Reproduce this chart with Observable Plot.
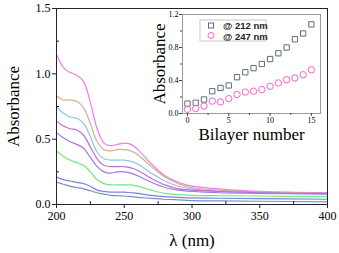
<!DOCTYPE html>
<html><head><meta charset="utf-8">
<script src="https://cdn.jsdelivr.net/npm/d3@7"></script>
<script src="https://cdn.jsdelivr.net/npm/@observablehq/plot@0.6"></script>
<style>
body{margin:0;background:#fff;}
#wrap{position:relative;width:339px;height:253px;}
#inset{position:absolute;left:145px;top:0;}
#wrap svg text{font-family:"Liberation Serif","Times New Roman","DejaVu Serif",Times,serif !important;}
#wrap svg text.lg{font-family:"Liberation Sans",Arial,sans-serif !important;}
</style></head><body>
<div id="wrap"><div id="main"></div><div id="inset"></div></div>
<script>
const wl = [200,205,210,215,220,225,230,235,240,245,250,255,260,270,280,290,300,320,350,400];
const sPink   = [1.15,1.05,1.01,0.99,0.94,0.78,0.58,0.47,0.45,0.46,0.47,0.46,0.42,0.31,0.22,0.17,0.14,0.12,0.10,0.09];
const sTan    = [0.83,0.80,0.80,0.79,0.74,0.62,0.48,0.42,0.41,0.42,0.42,0.41,0.38,0.29,0.21,0.16,0.13,0.11,0.095,0.085];
const sLBlue  = [0.75,0.70,0.67,0.66,0.62,0.52,0.40,0.35,0.34,0.34,0.34,0.33,0.31,0.24,0.18,0.14,0.12,0.10,0.09,0.08];
const sMag    = [0.64,0.60,0.58,0.57,0.53,0.44,0.35,0.30,0.29,0.29,0.29,0.28,0.26,0.20,0.15,0.12,0.11,0.10,0.09,0.085];
const sViolet = [0.55,0.51,0.48,0.46,0.43,0.36,0.29,0.25,0.24,0.25,0.25,0.24,0.22,0.17,0.13,0.11,0.10,0.09,0.085,0.08];
const sGreen  = [0.41,0.37,0.34,0.32,0.30,0.25,0.19,0.16,0.15,0.15,0.15,0.15,0.14,0.11,0.085,0.075,0.07,0.067,0.065,0.06];
const sBlue   = [0.21,0.19,0.18,0.17,0.16,0.14,0.11,0.10,0.095,0.095,0.095,0.09,0.085,0.07,0.06,0.055,0.05,0.048,0.045,0.04];
const sGray   = [0.17,0.155,0.14,0.13,0.12,0.105,0.09,0.08,0.07,0.067,0.065,0.06,0.055,0.047,0.04,0.035,0.03,0.028,0.025,0.02];
const seriesNames = ["pink","tan","lblue","mag","violet","green","blue","gray"];
const seriesVals = [sPink,sTan,sLBlue,sMag,sViolet,sGreen,sBlue,sGray];
const seriesColors = ["#f07cf0","#d2b094","#8cc6ea","#c070c8","#a27ae6","#72e878","#7884e4","#7a90bc"];

const bilayers = [0,1,2,3,4,5,6,7,8,9,10,11,12,13,14,15];
const abs212 = [0.12,0.13,0.17,0.27,0.31,0.34,0.44,0.50,0.55,0.60,0.66,0.73,0.80,0.90,0.97,1.08];
const abs247 = [0.05,0.06,0.09,0.15,0.14,0.18,0.23,0.26,0.27,0.29,0.33,0.37,0.41,0.43,0.47,0.53];
const legendLabels = ["@ 212 nm","@ 247 nm"];

const mainXTicks = [200,250,300,350,400];
const mainXMinor = [225,275,325,375];
const mainYTicks = [0,0.5,1.0,1.5];
const mainYMinor = [0.25,0.75,1.25];
const insetXTicks = [0,5,10,15];
const insetXMinor = [2.5,7.5,12.5];
const insetYTicks = [0,0.4,0.8,1.2];
const insetYMinor = [0.2,0.6,1.0];

const rows = [];
seriesVals.forEach((vals,i)=>vals.forEach((v,j)=>rows.push({s:seriesNames[i],x:wl[j],y:v})));

const main = Plot.plot({
  width:339,height:253,
  marginLeft:56,marginRight:12,marginTop:8,marginBottom:49,
  style:"background:white;color:#000;font-family:'Liberation Serif',serif;",
  x:{domain:[200,400]},
  y:{domain:[0,1.5]},
  color:{domain:seriesNames,range:seriesColors},
  marks:[
    Plot.line(rows,{x:"x",y:"y",stroke:"s",z:"s",curve:"catmull-rom",strokeWidth:1.2}),
    Plot.frame({stroke:"#223"}),
    Plot.axisX({ticks:mainXTicks,tickSize:4,tickFormat:d=>d,fontSize:12,tickPadding:3,label:null,stroke:"#223"}),
    Plot.axisX({ticks:mainXMinor,tickSize:-3,tickFormat:()=>"",label:null,stroke:"#223"}),
    Plot.axisX({ticks:[],label:"λ (nm)",labelAnchor:"center",labelArrow:"none",labelOffset:41,fontSize:17}),
    Plot.axisY({ticks:mainYTicks,tickSize:4,tickFormat:d=>d.toFixed(1),fontSize:12,tickPadding:2,label:null,stroke:"#223"}),
    Plot.axisY({ticks:mainYMinor,tickSize:-3,tickFormat:()=>"",label:null,stroke:"#223"}),
    Plot.axisY({ticks:[],label:"Absorbance",labelAnchor:"center",labelArrow:"none",labelOffset:50,fontSize:17})
  ]
});
document.getElementById("main").appendChild(main);

const inset = Plot.plot({
  width:180,height:145,
  marginLeft:37,marginRight:5,marginTop:14,marginBottom:32,
  style:"background:transparent;color:#000;font-family:'Liberation Serif',serif;",
  x:{domain:[-0.6,16.1]},
  y:{domain:[0,1.2]},
  marks:[
    Plot.frame({stroke:"#999"}),
    Plot.dot(bilayers,{x:d=>d,y:(d,i)=>abs212[i],symbol:"square",r:3,stroke:"#5f6e7c",strokeWidth:1}),
    Plot.dot(bilayers,{x:d=>d,y:(d,i)=>abs247[i],symbol:"circle",r:3.2,stroke:"#ff5ec8",strokeWidth:1}),
    Plot.axisX({ticks:insetXTicks,tickSize:3,tickFormat:d=>d,fontSize:8,tickPadding:1,label:null,stroke:"#444"}),
    Plot.axisX({ticks:insetXMinor,tickSize:2,tickFormat:()=>"",label:null,stroke:"#444"}),
    Plot.axisX({ticks:[],label:"Bilayer number",labelAnchor:"center",labelArrow:"none",labelOffset:26,fontSize:17}),
    Plot.axisY({ticks:insetYTicks,tickSize:3,tickFormat:d=>d.toFixed(1),fontSize:8,tickPadding:1,label:null,stroke:"#444"}),
    Plot.axisY({ticks:insetYMinor,tickSize:2,tickFormat:()=>"",label:null,stroke:"#444"}),
    Plot.axisY({ticks:[],label:"Absorbance",labelAnchor:"center",labelArrow:"none",labelOffset:30,fontSize:17})
  ]
});
document.getElementById("inset").appendChild(inset);

// legend
const svg = d3.select(inset);
const lg = svg.append("g").attr("transform","translate(55,20)");
lg.append("rect").attr("width",66).attr("height",21).attr("fill","white").attr("stroke","#bbb").attr("stroke-width",0.8);
lg.append("rect").attr("x",8.5).attr("y",3).attr("width",5).attr("height",5).attr("fill","none").attr("stroke","#5f6e7c");
lg.append("circle").attr("cx",11).attr("cy",15.5).attr("r",3).attr("fill","none").attr("stroke","#ff5ec8");
legendLabels.forEach((t,i)=>lg.append("text").attr("class","lg").attr("x",23).attr("y",9+i*11).text(t)
  .attr("text-anchor","start").attr("font-size",9.5).attr("font-weight","bold").attr("fill","#222"));
</script></body></html>
